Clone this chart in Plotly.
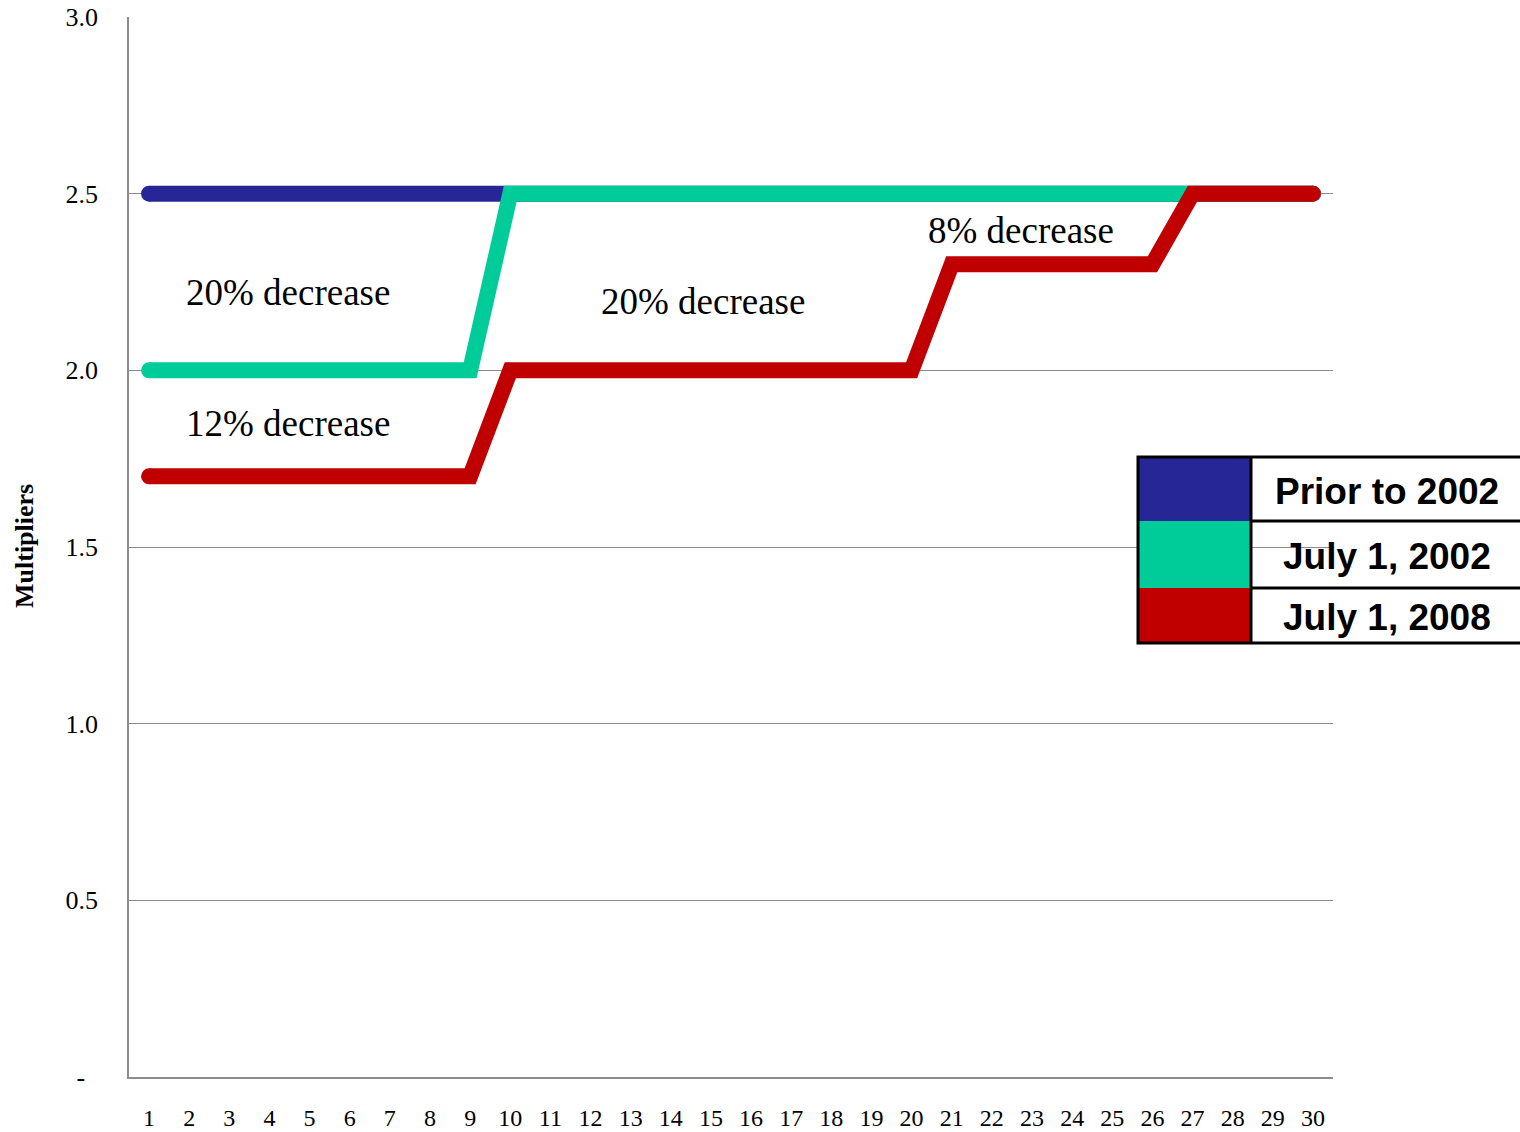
import plotly.graph_objects as go

# Years of service (category axis)
years = list(range(1, 31))

# Multiplier schedules
prior_2002 = [2.5] * 30
july_2002 = [2.0] * 9 + [2.5] * 21
july_2008 = [1.7] * 9 + [2.0] * 11 + [2.3] * 6 + [2.5] * 4

series_names = ["Prior to 2002", "July 1, 2002", "July 1, 2008"]
series_values = [prior_2002, july_2002, july_2008]
series_colors = ["#262696", "#00CC99", "#C00000"]

y_tick_vals = [0, 0.5, 1.0, 1.5, 2.0, 2.5, 3.0]
y_tick_text = ["-\u00a0\u00a0", "0.5", "1.0", "1.5", "2.0", "2.5", "3.0"]

notes = [
    ("20% decrease", 1.88, 2.22),
    ("12% decrease", 1.88, 1.85),
    ("20% decrease", 12.2, 2.195),
    ("8% decrease", 20.35, 2.395),
]

LINE_W = 16

# Figure and plot-area geometry in pixels
W, PL, PR = 1520, 129, 1333
H, PT, PB = 1132, 17, 1077


def px_x(px):
    return (px - PL) / (PR - PL)


def px_y(py):
    return (PB - py) / (PB - PT)


fig = go.Figure()
for name, vals, color in zip(series_names, series_values, series_colors):
    n = len(vals)
    # round end caps: markers only at the first and last points
    sizes = [LINE_W if i in (0, n - 1) else 0 for i in range(n)]
    fig.add_trace(go.Scatter(
        x=years, y=vals, name=name, mode="lines+markers",
        line=dict(color=color, width=LINE_W),
        marker=dict(size=sizes, color=color, opacity=1, line=dict(width=0)),
        showlegend=False, hoverinfo="skip",
    ))

for text, x, y in notes:
    fig.add_annotation(x=x, y=y, xref="x", yref="y", text=text, showarrow=False,
                       xanchor="left", yanchor="middle",
                       font=dict(family="Liberation Serif", size=37, color="black"))

# Y axis title
fig.add_annotation(x=px_x(25), y=px_y(546), xref="paper", yref="paper",
                   text="<b>Multipliers</b>", showarrow=False, textangle=-90,
                   xanchor="center", yanchor="middle",
                   font=dict(family="Liberation Serif", size=26, color="black"))

# Legend drawn as a bordered table to the right of the plot
rows = [457, 521, 588, 643]
text_y = [491, 556, 617]
x0, xm, x1 = 1138, 1251, 1530
for i, (name, color) in enumerate(zip(series_names, series_colors)):
    fig.add_shape(type="rect", xref="paper", yref="paper",
                  x0=px_x(x0), x1=px_x(xm), y0=px_y(rows[i + 1]), y1=px_y(rows[i]),
                  fillcolor=color, line=dict(width=0), layer="above")
    fig.add_annotation(x=px_x((xm + 1522) / 2), y=px_y(text_y[i]), xref="paper", yref="paper",
                       text=f"<b>{name}</b>", showarrow=False, xanchor="center", yanchor="middle",
                       font=dict(family="Liberation Sans", size=37, color="black"))
# table borders
fig.add_shape(type="rect", xref="paper", yref="paper",
              x0=px_x(x0), x1=px_x(x1), y0=px_y(rows[-1]), y1=px_y(rows[0]),
              line=dict(color="black", width=3), fillcolor="rgba(0,0,0,0)", layer="above")
fig.add_shape(type="line", xref="paper", yref="paper",
              x0=px_x(xm), x1=px_x(xm), y0=px_y(rows[-1]), y1=px_y(rows[0]),
              line=dict(color="black", width=3), layer="above")
for r in rows[1:-1]:
    fig.add_shape(type="line", xref="paper", yref="paper",
                  x0=px_x(xm), x1=px_x(x1), y0=px_y(r), y1=px_y(r),
                  line=dict(color="black", width=3), layer="above")

fig.update_layout(
    width=W, height=H,
    margin=dict(l=PL, r=W - PR, t=PT, b=H - PB, pad=0, autoexpand=False),
    paper_bgcolor="white", plot_bgcolor="white",
    font=dict(family="Liberation Serif", size=23, color="black"),
    showlegend=False,
)
fig.update_xaxes(
    range=[0.5, 30.5], tickmode="array", tickvals=years, ticktext=[str(y) for y in years],
    showgrid=False, zeroline=False, showline=True, linecolor="#8c8c8c", linewidth=1.5,
    ticks="", ticklabelstandoff=18, automargin=False,
    tickfont=dict(family="Liberation Serif", size=24),
)
fig.update_yaxes(
    range=[0, 3.0], tickmode="array", tickvals=y_tick_vals, ticktext=y_tick_text,
    showgrid=True, gridcolor="#8c8c8c", gridwidth=1.2, zeroline=False,
    showline=True, linecolor="#8c8c8c", linewidth=1.5,
    ticks="", ticklabelstandoff=24, automargin=False,
    tickfont=dict(family="Liberation Serif", size=26),
)

fig.write_html("out.html")
